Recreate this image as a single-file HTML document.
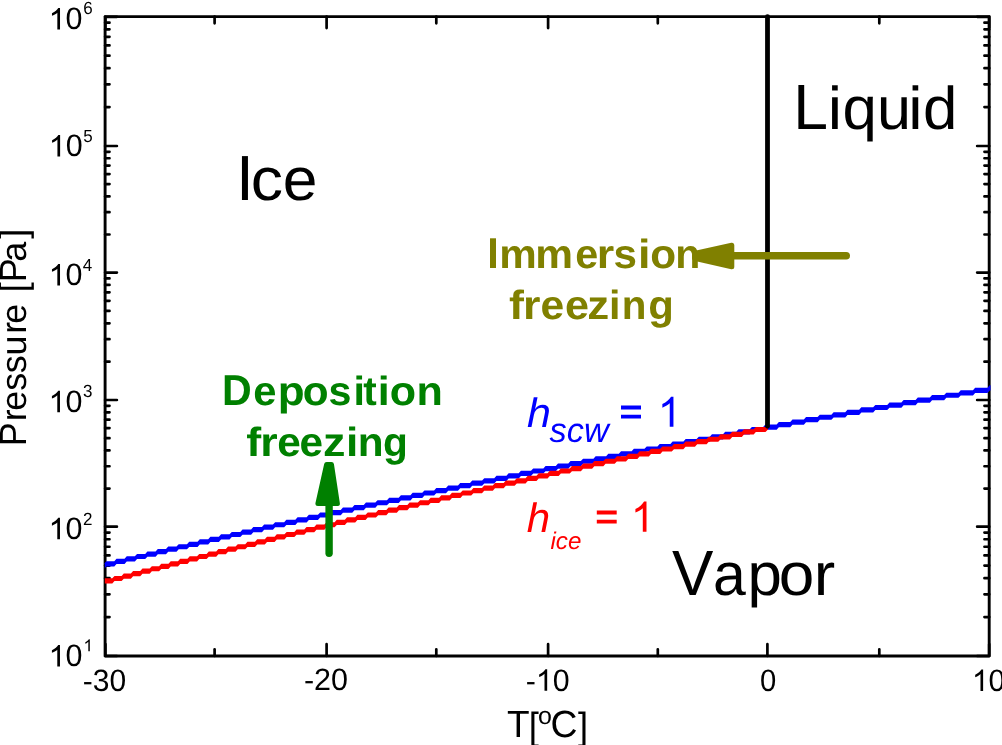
<!DOCTYPE html><html><head><meta charset="utf-8"><style>html,body{margin:0;padding:0;background:#fff;overflow:hidden}svg{display:block;will-change:transform}text{font-family:"Liberation Sans",sans-serif;font-kerning:none;white-space:pre;text-rendering:geometricPrecision}</style></head><body>
<svg width="1002" height="745" viewBox="0 0 1002 745">
<rect width="1002" height="745" fill="#fff"/>
<rect x="105.1" y="16.6" width="884.1" height="639.4" fill="none" stroke="#000" stroke-width="2.9" stroke-linejoin="round"/>
<path d="M105.1,656.00h11.8M989.25,656.00h-12.1M105.1,617.08h4.4M989.25,617.08h-4.8M105.1,594.31h4.4M989.25,594.31h-4.8M105.1,578.15h4.4M989.25,578.15h-4.8M105.1,565.62h4.4M989.25,565.62h-4.8M105.1,555.39h4.4M989.25,555.39h-4.8M105.1,546.73h4.4M989.25,546.73h-4.8M105.1,539.23h4.4M989.25,539.23h-4.8M105.1,532.62h4.4M989.25,532.62h-4.8M105.1,526.70h11.8M989.25,526.70h-12.1M105.1,488.56h4.4M989.25,488.56h-4.8M105.1,466.25h4.4M989.25,466.25h-4.8M105.1,450.42h4.4M989.25,450.42h-4.8M105.1,438.14h4.4M989.25,438.14h-4.8M105.1,428.11h4.4M989.25,428.11h-4.8M105.1,419.63h4.4M989.25,419.63h-4.8M105.1,412.28h4.4M989.25,412.28h-4.8M105.1,405.80h4.4M989.25,405.80h-4.8M105.1,400.00h11.8M989.25,400.00h-12.1M105.1,361.65h4.4M989.25,361.65h-4.8M105.1,339.21h4.4M989.25,339.21h-4.8M105.1,323.30h4.4M989.25,323.30h-4.8M105.1,310.95h4.4M989.25,310.95h-4.8M105.1,300.86h4.4M989.25,300.86h-4.8M105.1,292.33h4.4M989.25,292.33h-4.8M105.1,284.95h4.4M989.25,284.95h-4.8M105.1,278.43h4.4M989.25,278.43h-4.8M105.1,272.60h11.8M989.25,272.60h-12.1M105.1,234.49h4.4M989.25,234.49h-4.8M105.1,212.20h4.4M989.25,212.20h-4.8M105.1,196.38h4.4M989.25,196.38h-4.8M105.1,184.11h4.4M989.25,184.11h-4.8M105.1,174.09h4.4M989.25,174.09h-4.8M105.1,165.61h4.4M989.25,165.61h-4.8M105.1,158.27h4.4M989.25,158.27h-4.8M105.1,151.79h4.4M989.25,151.79h-4.8M105.1,146.00h11.8M989.25,146.00h-12.1M105.1,107.11h4.4M989.25,107.11h-4.8M105.1,84.36h4.4M989.25,84.36h-4.8M105.1,68.21h4.4M989.25,68.21h-4.8M105.1,55.69h4.4M989.25,55.69h-4.8M105.1,45.46h4.4M989.25,45.46h-4.8M105.1,36.81h4.4M989.25,36.81h-4.8M105.1,29.32h4.4M989.25,29.32h-4.8M105.1,22.71h4.4M989.25,22.71h-4.8M105.1,16.80h11.8M989.25,16.80h-12.1M105.40,656.0v-11.85M105.40,16.6v11.5M214.60,656.0v-6.75M214.60,16.6v6.75M326.60,656.0v-11.85M326.60,16.6v11.5M436.30,656.0v-6.75M436.30,16.6v6.75M548.10,656.0v-11.85M548.10,16.6v11.5M657.80,656.0v-6.75M657.80,16.6v6.75M767.40,656.0v-11.85M767.40,16.6v11.5M879.30,656.0v-6.75M879.30,16.6v6.75M989.20,656.0v-11.85M989.20,16.6v11.5" stroke="#000" stroke-width="2.7" stroke-linecap="round" fill="none"/>
<path d="M104.80,563.68 L104.10,563.68 L106.30,561.24 L114.30,561.24 L116.50,558.80 L124.55,558.80 L126.75,556.35 L134.85,556.35 L137.05,553.91 L145.20,553.91 L147.40,551.47 L155.60,551.47 L157.80,549.03 L166.00,549.03 L168.20,546.58 L176.50,546.58 L178.70,544.14 L187.00,544.14 L189.20,541.70 L197.55,541.70 L199.75,539.25 L208.20,539.25 L210.40,536.81 L218.85,536.81 L221.05,534.37 L229.55,534.37 L231.75,531.92 L240.30,531.92 L242.50,529.48 L251.10,529.48 L253.30,527.04 L261.95,527.04 L264.15,524.60 L272.95,524.60 L275.15,522.15 L284.15,522.15 L286.35,519.71 L295.35,519.71 L297.55,517.27 L306.65,517.27 L308.85,514.82 L317.95,514.82 L320.15,512.38 L329.35,512.38 L331.55,509.94 L340.75,509.94 L342.95,507.49 L352.25,507.49 L354.45,505.05 L363.75,505.05 L365.95,502.61 L375.35,502.61 L377.55,500.16 L387.00,500.16 L389.20,497.72 L398.70,497.72 L400.90,495.28 L410.45,495.28 L412.65,492.84 L422.25,492.84 L424.45,490.39 L434.10,490.39 L436.30,487.95 L446.00,487.95 L448.20,485.51 L458.00,485.51 L460.20,483.06 L470.00,483.06 L472.20,480.62 L482.10,480.62 L484.30,478.18 L494.25,478.18 L496.45,475.73 L506.45,475.73 L508.65,473.29 L518.70,473.29 L520.90,470.85 L531.00,470.85 L533.20,468.41 L543.35,468.41 L545.55,465.96 L555.80,465.96 L558.00,463.52 L568.30,463.52 L570.50,461.08 L580.85,461.08 L583.05,458.63 L593.45,458.63 L595.65,456.19 L606.10,456.19 L608.30,453.75 L618.85,453.75 L621.05,451.30 L631.65,451.30 L633.85,448.86 L644.50,448.86 L646.70,446.42 L657.45,446.42 L659.65,443.98 L670.40,443.98 L672.60,441.53 L683.45,441.53 L685.65,439.09 L696.60,439.09 L698.80,436.65 L709.75,436.65 L711.95,434.20 L723.00,434.20 L725.20,431.76 L736.30,431.76 L738.50,429.32 L749.70,429.32 L751.90,426.88 L763.15,426.88 L765.35,424.43 L776.65,424.43 L778.85,421.99 L790.25,421.99 L792.45,419.55 L803.85,419.55 L806.05,417.10 L817.60,417.10 L819.80,414.66 L831.40,414.66 L833.60,412.22 L845.25,412.22 L847.45,409.77 L859.15,409.77 L861.35,407.33 L873.15,407.33 L875.35,404.89 L887.25,404.89 L889.45,402.44 L901.40,402.44 L903.60,400.00 L915.60,400.00 L917.80,397.56 L929.85,397.56 L932.05,395.12 L944.15,395.12 L946.35,392.67 L958.50,392.67 L960.70,390.23 L972.95,390.23 L975.15,387.79 L987.50,387.79 L989.70,385.34 L990.50,385.34 L990.50,390.54 L989.70,390.54 L987.50,392.99 L975.15,392.99 L972.95,395.43 L960.70,395.43 L958.50,397.87 L946.35,397.87 L944.15,400.32 L932.05,400.32 L929.85,402.76 L917.80,402.76 L915.60,405.20 L903.60,405.20 L901.40,407.65 L889.45,407.65 L887.25,410.09 L875.35,410.09 L873.15,412.53 L861.35,412.53 L859.15,414.97 L847.45,414.97 L845.25,417.42 L833.60,417.42 L831.40,419.86 L819.80,419.86 L817.60,422.30 L806.05,422.30 L803.85,424.75 L792.45,424.75 L790.25,427.19 L778.85,427.19 L776.65,429.63 L765.35,429.63 L763.15,432.08 L751.90,432.08 L749.70,434.52 L738.50,434.52 L736.30,436.96 L725.20,436.96 L723.00,439.40 L711.95,439.40 L709.75,441.85 L698.80,441.85 L696.60,444.29 L685.65,444.29 L683.45,446.73 L672.60,446.73 L670.40,449.18 L659.65,449.18 L657.45,451.62 L646.70,451.62 L644.50,454.06 L633.85,454.06 L631.65,456.50 L621.05,456.50 L618.85,458.95 L608.30,458.95 L606.10,461.39 L595.65,461.39 L593.45,463.83 L583.05,463.83 L580.85,466.28 L570.50,466.28 L568.30,468.72 L558.00,468.72 L555.80,471.16 L545.55,471.16 L543.35,473.61 L533.20,473.61 L531.00,476.05 L520.90,476.05 L518.70,478.49 L508.65,478.49 L506.45,480.94 L496.45,480.94 L494.25,483.38 L484.30,483.38 L482.10,485.82 L472.20,485.82 L470.00,488.26 L460.20,488.26 L458.00,490.71 L448.20,490.71 L446.00,493.15 L436.30,493.15 L434.10,495.59 L424.45,495.59 L422.25,498.04 L412.65,498.04 L410.45,500.48 L400.90,500.48 L398.70,502.92 L389.20,502.92 L387.00,505.37 L377.55,505.37 L375.35,507.81 L365.95,507.81 L363.75,510.25 L354.45,510.25 L352.25,512.69 L342.95,512.69 L340.75,515.14 L331.55,515.14 L329.35,517.58 L320.15,517.58 L317.95,520.02 L308.85,520.02 L306.65,522.47 L297.55,522.47 L295.35,524.91 L286.35,524.91 L284.15,527.35 L275.15,527.35 L272.95,529.80 L264.15,529.80 L261.95,532.24 L253.30,532.24 L251.10,534.68 L242.50,534.68 L240.30,537.12 L231.75,537.12 L229.55,539.57 L221.05,539.57 L218.85,542.01 L210.40,542.01 L208.20,544.45 L199.75,544.45 L197.55,546.90 L189.20,546.90 L187.00,549.34 L178.70,549.34 L176.50,551.78 L168.20,551.78 L166.00,554.23 L157.80,554.23 L155.60,556.67 L147.40,556.67 L145.20,559.11 L137.05,559.11 L134.85,561.55 L126.75,561.55 L124.55,564.00 L116.50,564.00 L114.30,566.44 L106.30,566.44 L104.10,568.88 L104.80,568.88Z" fill="#0000ff"/>
<path d="M104.80,578.34 L112.30,578.34 L114.50,575.90 L121.60,575.90 L123.80,573.46 L130.90,573.46 L133.10,571.01 L140.25,571.01 L142.45,568.57 L149.65,568.57 L151.85,566.13 L159.05,566.13 L161.25,563.68 L168.50,563.68 L170.70,561.24 L178.00,561.24 L180.20,558.80 L187.50,558.80 L189.70,556.35 L197.05,556.35 L199.25,553.91 L206.60,553.91 L208.80,551.47 L216.20,551.47 L218.40,549.03 L225.85,549.03 L228.05,546.58 L235.55,546.58 L237.75,544.14 L245.25,544.14 L247.45,541.70 L255.00,541.70 L257.20,539.25 L264.80,539.25 L267.00,536.81 L274.60,536.81 L276.80,534.37 L284.45,534.37 L286.65,531.92 L294.35,531.92 L296.55,529.48 L304.30,529.48 L306.50,527.04 L314.25,527.04 L316.45,524.60 L324.35,524.60 L326.55,522.15 L334.60,522.15 L336.80,519.71 L344.85,519.71 L347.05,517.27 L355.20,517.27 L357.40,514.82 L365.55,514.82 L367.75,512.38 L375.95,512.38 L378.15,509.94 L386.35,509.94 L388.55,507.49 L396.80,507.49 L399.00,505.05 L407.35,505.05 L409.55,502.61 L417.85,502.61 L420.05,500.16 L428.45,500.16 L430.65,497.72 L439.10,497.72 L441.30,495.28 L449.75,495.28 L451.95,492.84 L460.45,492.84 L462.65,490.39 L471.20,490.39 L473.40,487.95 L482.00,487.95 L484.20,485.51 L492.80,485.51 L495.00,483.06 L503.65,483.06 L505.85,480.62 L514.60,480.62 L516.80,478.18 L525.55,478.18 L527.75,475.73 L536.50,475.73 L538.70,473.29 L547.55,473.29 L549.75,470.85 L558.65,470.85 L560.85,468.41 L569.75,468.41 L571.95,465.96 L580.90,465.96 L583.10,463.52 L592.10,463.52 L594.30,461.08 L603.35,461.08 L605.55,458.63 L614.65,458.63 L616.85,456.19 L626.00,456.19 L628.20,453.75 L637.35,453.75 L639.55,451.30 L648.80,451.30 L651.00,448.86 L660.25,448.86 L662.45,446.42 L671.75,446.42 L673.95,443.98 L683.35,443.98 L685.55,441.53 L694.95,441.53 L697.15,439.09 L706.60,439.09 L708.80,436.65 L718.25,436.65 L720.45,434.20 L730.00,434.20 L732.20,431.76 L741.80,431.76 L744.00,429.32 L753.65,429.32 L755.85,426.88 L765.50,426.88 L767.70,424.43 L768.00,424.43 L768.00,429.63 L767.70,429.63 L765.50,432.08 L755.85,432.08 L753.65,434.52 L744.00,434.52 L741.80,436.96 L732.20,436.96 L730.00,439.40 L720.45,439.40 L718.25,441.85 L708.80,441.85 L706.60,444.29 L697.15,444.29 L694.95,446.73 L685.55,446.73 L683.35,449.18 L673.95,449.18 L671.75,451.62 L662.45,451.62 L660.25,454.06 L651.00,454.06 L648.80,456.50 L639.55,456.50 L637.35,458.95 L628.20,458.95 L626.00,461.39 L616.85,461.39 L614.65,463.83 L605.55,463.83 L603.35,466.28 L594.30,466.28 L592.10,468.72 L583.10,468.72 L580.90,471.16 L571.95,471.16 L569.75,473.61 L560.85,473.61 L558.65,476.05 L549.75,476.05 L547.55,478.49 L538.70,478.49 L536.50,480.94 L527.75,480.94 L525.55,483.38 L516.80,483.38 L514.60,485.82 L505.85,485.82 L503.65,488.26 L495.00,488.26 L492.80,490.71 L484.20,490.71 L482.00,493.15 L473.40,493.15 L471.20,495.59 L462.65,495.59 L460.45,498.04 L451.95,498.04 L449.75,500.48 L441.30,500.48 L439.10,502.92 L430.65,502.92 L428.45,505.37 L420.05,505.37 L417.85,507.81 L409.55,507.81 L407.35,510.25 L399.00,510.25 L396.80,512.69 L388.55,512.69 L386.35,515.14 L378.15,515.14 L375.95,517.58 L367.75,517.58 L365.55,520.02 L357.40,520.02 L355.20,522.47 L347.05,522.47 L344.85,524.91 L336.80,524.91 L334.60,527.35 L326.55,527.35 L324.35,529.80 L316.45,529.80 L314.25,532.24 L306.50,532.24 L304.30,534.68 L296.55,534.68 L294.35,537.12 L286.65,537.12 L284.45,539.57 L276.80,539.57 L274.60,542.01 L267.00,542.01 L264.80,544.45 L257.20,544.45 L255.00,546.90 L247.45,546.90 L245.25,549.34 L237.75,549.34 L235.55,551.78 L228.05,551.78 L225.85,554.23 L218.40,554.23 L216.20,556.67 L208.80,556.67 L206.60,559.11 L199.25,559.11 L197.05,561.55 L189.70,561.55 L187.50,564.00 L180.20,564.00 L178.00,566.44 L170.70,566.44 L168.50,568.88 L161.25,568.88 L159.05,571.33 L151.85,571.33 L149.65,573.77 L142.45,573.77 L140.25,576.21 L133.10,576.21 L130.90,578.66 L123.80,578.66 L121.60,581.10 L114.50,581.10 L112.30,583.54 L104.80,583.54Z" fill="#ff0000"/>
<line x1="767.5" y1="16.6" x2="767.5" y2="426.3" stroke="#000" stroke-width="4.8" stroke-linecap="round"/>
<g transform="translate(48.60,666.48) scale(1.017,1)" fill="#000" ><path transform="translate(0.00,0) scale(0.01465,-0.01465)" d="M763,0L583,0L583,1147C540,1106 483,1064 413,1023C342,982 279,951 223,930L223,1104C324,1151 412,1209 487,1276C562,1343 615,1409 646,1466L763,1466Z"/><text transform="translate(16.68,0) scale(1,1.0320)" font-size="30">0</text></g>
<g transform="translate(83.48,651.37) scale(1.0,1)" fill="#000" ><path transform="translate(0.00,0) scale(0.00830,-0.00830)" d="M763,0L583,0L583,1147C540,1106 483,1064 413,1023C342,982 279,951 223,930L223,1104C324,1151 412,1209 487,1276C562,1343 615,1409 646,1466L763,1466Z"/></g>
<g transform="translate(48.60,539.25) scale(1.017,1)" fill="#000" ><path transform="translate(0.00,0) scale(0.01465,-0.01465)" d="M763,0L583,0L583,1147C540,1106 483,1064 413,1023C342,982 279,951 223,930L223,1104C324,1151 412,1209 487,1276C562,1343 615,1409 646,1466L763,1466Z"/><text transform="translate(16.68,0) scale(1,1.0320)" font-size="30">0</text></g>
<g transform="translate(83.00,524.50) scale(1.0,1)" fill="#000" ><text transform="translate(0.00,0) scale(1,1.0320)" font-size="17.0">2</text></g>
<g transform="translate(48.60,412.15) scale(1.017,1)" fill="#000" ><path transform="translate(0.00,0) scale(0.01465,-0.01465)" d="M763,0L583,0L583,1147C540,1106 483,1064 413,1023C342,982 279,951 223,930L223,1104C324,1151 412,1209 487,1276C562,1343 615,1409 646,1466L763,1466Z"/><text transform="translate(16.68,0) scale(1,1.0320)" font-size="30">0</text></g>
<g transform="translate(83.00,397.24) scale(1.0,1)" fill="#000" ><text transform="translate(0.00,0) scale(1,1.0320)" font-size="17.0">3</text></g>
<g transform="translate(48.65,285.45) scale(1.017,1)" fill="#000" ><path transform="translate(0.00,0) scale(0.01465,-0.01465)" d="M763,0L583,0L583,1147C540,1106 483,1064 413,1023C342,982 279,951 223,930L223,1104C324,1151 412,1209 487,1276C562,1343 615,1409 646,1466L763,1466Z"/><text transform="translate(16.68,0) scale(1,1.0320)" font-size="30">0</text></g>
<g transform="translate(82.87,270.75) scale(1.0,1)" fill="#000" ><text transform="translate(0.00,0) scale(1,1.0320)" font-size="17.0">4</text></g>
<g transform="translate(48.75,156.38) scale(1.017,1)" fill="#000" ><path transform="translate(0.00,0) scale(0.01465,-0.01465)" d="M763,0L583,0L583,1147C540,1106 483,1064 413,1023C342,982 279,951 223,930L223,1104C324,1151 412,1209 487,1276C562,1343 615,1409 646,1466L763,1466Z"/><text transform="translate(16.68,0) scale(1,1.0320)" font-size="30">0</text></g>
<g transform="translate(83.18,141.50) scale(1.0,1)" fill="#000" ><text transform="translate(0.00,0) scale(1,1.0320)" font-size="17.0">5</text></g>
<g transform="translate(48.65,29.49) scale(1.017,1)" fill="#000" ><path transform="translate(0.00,0) scale(0.01465,-0.01465)" d="M763,0L583,0L583,1147C540,1106 483,1064 413,1023C342,982 279,951 223,930L223,1104C324,1151 412,1209 487,1276C562,1343 615,1409 646,1466L763,1466Z"/><text transform="translate(16.68,0) scale(1,1.0320)" font-size="30">0</text></g>
<g transform="translate(83.15,13.75) scale(1.0,1)" fill="#000" ><text transform="translate(0.00,0) scale(1,1.0320)" font-size="17.0">6</text></g>
<g transform="translate(82.75,691.01) scale(1.0012,1)" fill="#000" ><text transform="translate(0.00,0) scale(1,0.9815)" font-size="30">-</text><text transform="translate(9.99,0) scale(1,1.0320)" font-size="30">30</text></g>
<g transform="translate(303.89,690.38) scale(1.018,1)" fill="#000" ><text transform="translate(0.00,0) scale(1,0.9815)" font-size="30">-</text><text transform="translate(9.99,0) scale(1,1.0320)" font-size="30">20</text></g>
<g transform="translate(525.73,690.64) scale(1.013,1)" fill="#000" ><text transform="translate(0.00,0) scale(1,0.9815)" font-size="30">-</text><path transform="translate(9.99,0) scale(0.01465,-0.01465)" d="M763,0L583,0L583,1147C540,1106 483,1064 413,1023C342,982 279,951 223,930L223,1104C324,1151 412,1209 487,1276C562,1343 615,1409 646,1466L763,1466Z"/><text transform="translate(26.67,0) scale(1,1.0320)" font-size="30">0</text></g>
<g transform="translate(760.05,690.50) scale(0.9759,1)" fill="#000" ><text transform="translate(0.00,0) scale(1,1.0320)" font-size="30">0</text></g>
<g transform="translate(971.94,690.88) scale(1.0,1)" fill="#000" ><path transform="translate(0.00,0) scale(0.01465,-0.01465)" d="M763,0L583,0L583,1147C540,1106 483,1064 413,1023C342,982 279,951 223,930L223,1104C324,1151 412,1209 487,1276C562,1343 615,1409 646,1466L763,1466Z"/><text transform="translate(16.68,0) scale(1,1.0320)" font-size="30">0</text></g>
<g transform="translate(507.07,737.20) scale(1.0163,1)" fill="#000" ><text transform="translate(0.00,0) scale(1,1.0405)" font-size="36.4">T</text></g>
<g transform="translate(528.66,738.53) scale(1.0,1)" fill="#000" ><text transform="translate(0.00,0) scale(1,1.0405)" font-size="36.4">[</text></g>
<g transform="translate(538.09,724.24) scale(1.0,1)" fill="#000" ><text transform="translate(0.00,0) scale(1,0.9815)" font-size="25">o</text></g>
<g transform="translate(550.42,737.03) scale(1.025,1)" fill="#000" ><text transform="translate(0.00,0) scale(1,1.0405)" font-size="36.4">C</text></g>
<g transform="translate(577.94,738.53) scale(1.0,1)" fill="#000" ><text transform="translate(0.00,0) scale(1,1.0405)" font-size="36.4">]</text></g>
<g transform="translate(236.11,200.13) scale(1.05,1)" fill="#000" ><text transform="translate(0.00,0) scale(1,1.0405)" font-size="61.4">I</text></g>
<g transform="translate(250.74,200.13) scale(1.05,1)" fill="#000" ><text transform="translate(0.00,0) scale(1,0.9815)" font-size="61.4">c</text></g>
<g transform="translate(282.65,200.13) scale(1.0166,1)" fill="#000" ><text transform="translate(0.00,0) scale(1,0.9815)" font-size="61.4">e</text></g>
<g transform="translate(793.31,129.27) scale(1.0173,1)" fill="#000" ><text transform="translate(0.00,0) scale(1,1.0405)" font-size="61.4">L</text></g>
<g transform="translate(827.73,129.27) scale(1.05,1)" fill="#000" ><text transform="translate(0.00,0) scale(1,0.9815)" font-size="61.4">i</text></g>
<g transform="translate(842.40,129.27) scale(1.0067,1)" fill="#000" ><text transform="translate(0.00,0) scale(1,0.9815)" font-size="61.4">q</text></g>
<g transform="translate(876.89,129.27) scale(0.9958,1)" fill="#000" ><text transform="translate(0.00,0) scale(1,0.9815)" font-size="61.4">u</text></g>
<g transform="translate(908.27,129.27) scale(1.05,1)" fill="#000" ><text transform="translate(0.00,0) scale(1,0.9815)" font-size="61.4">i</text></g>
<g transform="translate(922.93,129.27) scale(1.0059,1)" fill="#000" ><text transform="translate(0.00,0) scale(1,0.9815)" font-size="61.4">d</text></g>
<g transform="translate(671.90,594.80) scale(1.0105,1)" fill="#000" ><text transform="translate(0.00,0) scale(1,1.0405)" font-size="61.4">V</text></g>
<g transform="translate(712.94,594.80) scale(0.96,1)" fill="#000" ><text transform="translate(0.00,0) scale(1,0.9815)" font-size="61.4">a</text></g>
<g transform="translate(747.40,594.80) scale(1.0072,1)" fill="#000" ><text transform="translate(0.00,0) scale(1,0.9815)" font-size="61.4">p</text></g>
<g transform="translate(778.78,594.80) scale(1.0411,1)" fill="#000" ><text transform="translate(0.00,0) scale(1,0.9815)" font-size="61.4">o</text></g>
<g transform="translate(813.87,594.80) scale(1.05,1)" fill="#000" ><text transform="translate(0.00,0) scale(1,0.9815)" font-size="61.4">r</text></g>
<g transform="translate(487.23,267.60) scale(0.9978,1)" fill="#808000" ><text transform="translate(0.00,0) scale(1,1.0405)" font-size="41.5" font-weight="bold">I</text></g>
<g transform="translate(499.15,267.60) scale(1.017,1)" fill="#808000" ><text transform="translate(0.00,0) scale(1,0.9815)" font-size="41.5" font-weight="bold">m</text></g>
<g transform="translate(535.14,267.60) scale(1.0232,1)" fill="#808000" ><text transform="translate(0.00,0) scale(1,0.9815)" font-size="41.5" font-weight="bold">m</text></g>
<g transform="translate(575.13,267.60) scale(0.9962,1)" fill="#808000" ><text transform="translate(0.00,0) scale(1,0.9815)" font-size="41.5" font-weight="bold">e</text></g>
<g transform="translate(596.68,267.60) scale(1.08,1)" fill="#808000" ><text transform="translate(0.00,0) scale(1,0.9815)" font-size="41.5" font-weight="bold">r</text></g>
<g transform="translate(613.50,267.60) scale(1.0167,1)" fill="#808000" ><text transform="translate(0.00,0) scale(1,0.9815)" font-size="41.5" font-weight="bold">s</text></g>
<g transform="translate(638.10,267.60) scale(1.08,1)" fill="#808000" ><text transform="translate(0.00,0) scale(1,0.9815)" font-size="41.5" font-weight="bold">i</text></g>
<g transform="translate(650.31,267.60) scale(1.0191,1)" fill="#808000" ><text transform="translate(0.00,0) scale(1,0.9815)" font-size="41.5" font-weight="bold">o</text></g>
<g transform="translate(675.22,267.60) scale(0.9891,1)" fill="#808000" ><text transform="translate(0.00,0) scale(1,0.9815)" font-size="41.5" font-weight="bold">n</text></g>
<g transform="translate(509.08,318.55) scale(1.08,1)" fill="#808000" ><text transform="translate(0.00,0) scale(1,0.9815)" font-size="41.5" font-weight="bold">f</text></g>
<g transform="translate(523.08,318.55) scale(1.08,1)" fill="#808000" ><text transform="translate(0.00,0) scale(1,0.9815)" font-size="41.5" font-weight="bold">r</text></g>
<g transform="translate(540.52,318.55) scale(1.027,1)" fill="#808000" ><text transform="translate(0.00,0) scale(1,0.9815)" font-size="41.5" font-weight="bold">e</text></g>
<g transform="translate(564.92,318.55) scale(1.0414,1)" fill="#808000" ><text transform="translate(0.00,0) scale(1,0.9815)" font-size="41.5" font-weight="bold">e</text></g>
<g transform="translate(587.37,318.55) scale(1.0557,1)" fill="#808000" ><text transform="translate(0.00,0) scale(1,0.9815)" font-size="41.5" font-weight="bold">z</text></g>
<g transform="translate(609.10,318.55) scale(0.9941,1)" fill="#808000" ><text transform="translate(0.00,0) scale(1,0.9815)" font-size="41.5" font-weight="bold">i</text></g>
<g transform="translate(621.70,318.55) scale(0.974,1)" fill="#808000" ><text transform="translate(0.00,0) scale(1,0.9815)" font-size="41.5" font-weight="bold">n</text></g>
<g transform="translate(648.18,318.55) scale(1.0096,1)" fill="#808000" ><text transform="translate(0.00,0) scale(1,0.9815)" font-size="41.5" font-weight="bold">g</text></g>
<g transform="translate(221.96,405.19) scale(0.9905,1)" fill="#008000" ><text transform="translate(0.00,0) scale(1,1.0405)" font-size="41.5" font-weight="bold">D</text></g>
<g transform="translate(253.22,405.19) scale(1.0074,1)" fill="#008000" ><text transform="translate(0.00,0) scale(1,0.9815)" font-size="41.5" font-weight="bold">e</text></g>
<g transform="translate(277.76,405.19) scale(1.0609,1)" fill="#008000" ><text transform="translate(0.00,0) scale(1,0.9815)" font-size="41.5" font-weight="bold">p</text></g>
<g transform="translate(302.85,405.19) scale(1.0186,1)" fill="#008000" ><text transform="translate(0.00,0) scale(1,0.9815)" font-size="41.5" font-weight="bold">o</text></g>
<g transform="translate(328.55,405.19) scale(0.9934,1)" fill="#008000" ><text transform="translate(0.00,0) scale(1,0.9815)" font-size="41.5" font-weight="bold">s</text></g>
<g transform="translate(353.50,405.19) scale(0.995,1)" fill="#008000" ><text transform="translate(0.00,0) scale(1,0.9815)" font-size="41.5" font-weight="bold">i</text></g>
<g transform="translate(363.34,405.19) scale(0.9744,1)" fill="#008000" ><text transform="translate(0.00,0) scale(1,0.9815)" font-size="41.5" font-weight="bold">t</text></g>
<g transform="translate(377.85,405.19) scale(1.0331,1)" fill="#008000" ><text transform="translate(0.00,0) scale(1,0.9815)" font-size="41.5" font-weight="bold">i</text></g>
<g transform="translate(389.65,405.19) scale(1.0384,1)" fill="#008000" ><text transform="translate(0.00,0) scale(1,0.9815)" font-size="41.5" font-weight="bold">o</text></g>
<g transform="translate(416.60,405.19) scale(1.0396,1)" fill="#008000" ><text transform="translate(0.00,0) scale(1,0.9815)" font-size="41.5" font-weight="bold">n</text></g>
<g transform="translate(246.19,455.80) scale(1.08,1)" fill="#008000" ><text transform="translate(0.00,0) scale(1,0.9815)" font-size="41.5" font-weight="bold">f</text></g>
<g transform="translate(260.36,455.80) scale(1.08,1)" fill="#008000" ><text transform="translate(0.00,0) scale(1,0.9815)" font-size="41.5" font-weight="bold">r</text></g>
<g transform="translate(277.25,455.80) scale(1.021,1)" fill="#008000" ><text transform="translate(0.00,0) scale(1,0.9815)" font-size="41.5" font-weight="bold">e</text></g>
<g transform="translate(299.54,455.80) scale(1.0208,1)" fill="#008000" ><text transform="translate(0.00,0) scale(1,0.9815)" font-size="41.5" font-weight="bold">e</text></g>
<g transform="translate(322.88,455.80) scale(1.08,1)" fill="#008000" ><text transform="translate(0.00,0) scale(1,0.9815)" font-size="41.5" font-weight="bold">z</text></g>
<g transform="translate(345.93,455.80) scale(1.0674,1)" fill="#008000" ><text transform="translate(0.00,0) scale(1,0.9815)" font-size="41.5" font-weight="bold">i</text></g>
<g transform="translate(357.79,455.80) scale(1.0202,1)" fill="#008000" ><text transform="translate(0.00,0) scale(1,0.9815)" font-size="41.5" font-weight="bold">n</text></g>
<g transform="translate(383.05,455.80) scale(0.9807,1)" fill="#008000" ><text transform="translate(0.00,0) scale(1,0.9815)" font-size="41.5" font-weight="bold">g</text></g>
<g transform="translate(527.04,426.69) scale(1.025,1)" fill="#0000ff" ><text transform="translate(0.00,0) scale(1,0.9815)" font-size="42" font-style="italic">h</text></g>
<g transform="translate(549.62,442.07) scale(0.9809,1)" fill="#0000ff" ><text transform="translate(0.00,0) scale(1,0.9815)" font-size="35" font-style="italic">scw</text></g>
<g transform="translate(657.79,426.71) scale(1.0,1)" fill="#0000ff" ><path transform="translate(0.00,0) scale(0.02051,-0.02051)" d="M763,0L583,0L583,1147C540,1106 483,1064 413,1023C342,982 279,951 223,930L223,1104C324,1151 412,1209 487,1276C562,1343 615,1409 646,1466L763,1466Z"/></g>
<g transform="translate(526.86,531.76) scale(1.0,1)" fill="#ff0000" ><text transform="translate(0.00,0) scale(1,0.9815)" font-size="42" font-style="italic">h</text></g>
<g transform="translate(550.43,548.79) scale(0.9886,1)" fill="#ff0000" ><text transform="translate(0.00,0) scale(1,0.9815)" font-size="24.5" font-style="italic">ice</text></g>
<g transform="translate(630.84,531.68) scale(1.0,1)" fill="#ff0000" ><path transform="translate(0.00,0) scale(0.02051,-0.02051)" d="M763,0L583,0L583,1147C540,1106 483,1064 413,1023C342,982 279,951 223,930L223,1104C324,1151 412,1209 487,1276C562,1343 615,1409 646,1466L763,1466Z"/></g>
<g transform="translate(26.3,337.5) rotate(-90)"><g transform="translate(-108.71,0.00) scale(0.986,1)" fill="#000" ><text transform="translate(0.00,0) scale(1,1.0405)" font-size="36.4">P</text></g><g transform="translate(-83.68,0.00) scale(0.986,1)" fill="#000" ><text transform="translate(0.00,0) scale(1,0.9815)" font-size="36.4">r</text></g><g transform="translate(-73.32,0.00) scale(0.986,1)" fill="#000" ><text transform="translate(0.00,0) scale(1,0.9815)" font-size="36.4">e</text></g><g transform="translate(-53.26,0.00) scale(0.986,1)" fill="#000" ><text transform="translate(0.00,0) scale(1,0.9815)" font-size="36.4">s</text></g><g transform="translate(-35.82,0.00) scale(0.986,1)" fill="#000" ><text transform="translate(0.00,0) scale(1,0.9815)" font-size="36.4">s</text></g><g transform="translate(-18.12,0.00) scale(0.986,1)" fill="#000" ><text transform="translate(0.00,0) scale(1,0.9815)" font-size="36.4">u</text></g><g transform="translate(3.64,0.00) scale(0.986,1)" fill="#000" ><text transform="translate(0.00,0) scale(1,0.9815)" font-size="36.4">r</text></g><g transform="translate(13.69,0.00) scale(0.986,1)" fill="#000" ><text transform="translate(0.00,0) scale(1,0.9815)" font-size="36.4">e</text></g><g transform="translate(45.22,0.00) scale(0.986,1)" fill="#000" ><text transform="translate(0.00,0) scale(1,1.0405)" font-size="36.4">[</text></g><g transform="translate(55.34,0.00) scale(0.986,1)" fill="#000" ><text transform="translate(0.00,0) scale(1,1.0405)" font-size="36.4">P</text></g><g transform="translate(75.83,0.00) scale(0.986,1)" fill="#000" ><text transform="translate(0.00,0) scale(1,0.9815)" font-size="36.4">a</text></g><g transform="translate(98.64,0.00) scale(0.986,1)" fill="#000" ><text transform="translate(0.00,0) scale(1,1.0405)" font-size="36.4">]</text></g></g>
<path fill="#0000ff" d="M621.0,405.6H641.0V409.6H621.0ZM621.0,414.75H641.0V418.6H621.0Z"/>
<path fill="#ff0000" d="M596.8,510.6H616.7V514.6H596.8ZM596.8,519.75H616.7V523.6H596.8Z"/>
<line x1="846.2" y1="255.8" x2="728" y2="255.8" stroke="#808000" stroke-width="7.6" stroke-linecap="round"/>
<path d="M694.5,253.4 L731.8,245.2 L731.8,266.7 L694.5,258.2 Z" fill="#808000" stroke="#808000" stroke-width="5" stroke-linejoin="round"/>
<line x1="329.1" y1="553.3" x2="329.1" y2="500" stroke="#008000" stroke-width="7.4" stroke-linecap="round"/>
<path d="M326.6,464.6 L331.5,464.6 L337.4,503.5 L317.9,503.5 Z" fill="#008000" stroke="#008000" stroke-width="5" stroke-linejoin="round"/>
</svg></body></html>
